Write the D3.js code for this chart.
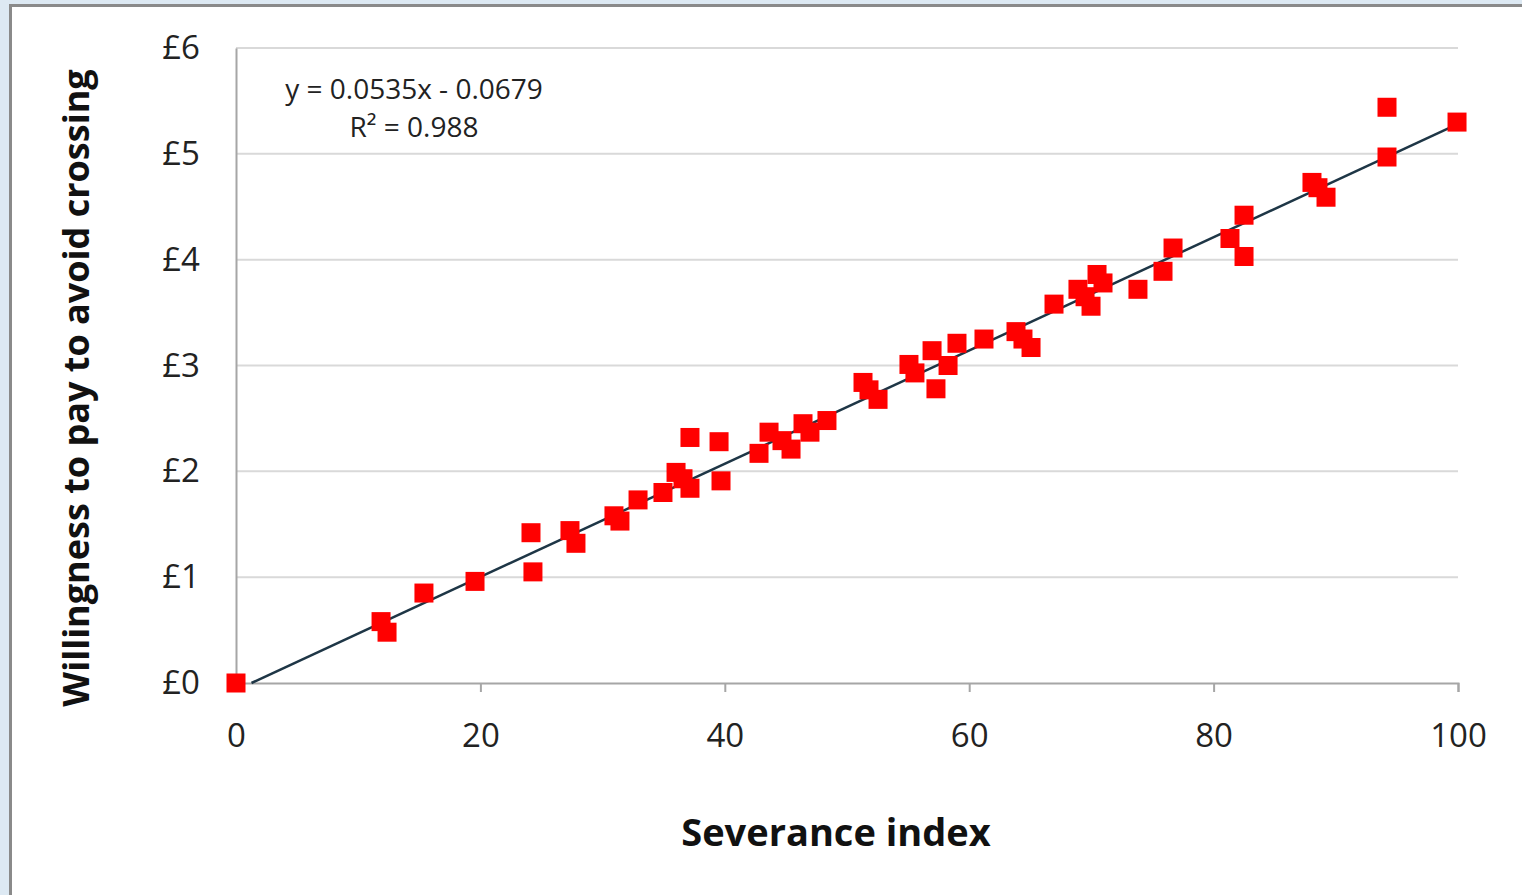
<!DOCTYPE html>
<html>
<head>
<meta charset="utf-8">
<script src="https://cdn.jsdelivr.net/npm/d3@7"></script>
<style>
	html, body { margin: 0; padding: 0; background: #dde9f3; }
	svg { display: block; }
</style>
</head>
<body>
<svg id="chart"></svg>
<script>
// severance index vs willingness to pay
let severance = [
	0, 11.87, 12.36, 15.38, 19.56, 24.14, 24.3, 27.33, 27.82, 30.93,
	31.42, 32.9, 34.94, 36.01, 36.58, 37.15, 37.15, 39.53, 39.69, 42.8,
	43.62, 44.68, 45.42, 46.4, 46.97, 48.36, 51.31, 51.8, 52.54, 55.07,
	55.56, 56.96, 57.28, 58.27, 59.0, 61.21, 63.83, 64.4, 65.06, 66.94,
	68.9, 69.48, 69.97, 70.46, 70.95, 73.81, 75.86, 76.68, 81.34, 82.49,
	82.49, 88.05, 88.54, 89.2, 94.19, 94.19, 99.92
];
let wtp = [
	0, 0.58, 0.48, 0.85, 0.96, 1.42, 1.05, 1.44, 1.32, 1.58,
	1.53, 1.73, 1.8, 1.99, 1.93, 1.84, 2.32, 2.28, 1.91, 2.17,
	2.37, 2.29, 2.21, 2.45, 2.37, 2.48, 2.84, 2.77, 2.68, 3.01,
	2.93, 3.14, 2.78, 3.0, 3.21, 3.25, 3.32, 3.25, 3.17, 3.58,
	3.72, 3.65, 3.56, 3.86, 3.78, 3.72, 3.89, 4.11, 4.2, 4.42,
	4.03, 4.73, 4.68, 4.59, 5.44, 4.97, 5.3
];
let xTicks = [0, 20, 40, 60, 80, 100];
let yTicks = [0, 1, 2, 3, 4, 5, 6];
let slope = 0.0535, intercept = -0.0679;
let eqLines = ['y = 0.0535x - 0.0679', 'R² = 0.988'];

let width = 1522,
	height = 895;

const svg = d3.select('#chart').attr('width', width).attr('height', height);

// white panel with grey frame
svg.append('rect')
	.attr('x', 10.5).attr('y', 5.5)
	.attr('width', width).attr('height', height)
	.attr('fill', '#ffffff')
	.attr('stroke', '#8a8a8a')
	.attr('stroke-width', 3);

const x = d3.scaleLinear().domain([0, 100]).range([236, 1458]);
const y = d3.scaleLinear().domain([0, 6]).range([683, 48]);

const font = "'Open Sans', sans-serif";

// horizontal gridlines
svg.append('g')
	.selectAll('line')
	.data(yTicks.slice(1))
	.enter()
	.append('line')
	.attr('x1', x(0)).attr('x2', x(100))
	.attr('y1', (d) => y(d)).attr('y2', (d) => y(d))
	.attr('stroke', '#d9d9d9')
	.attr('stroke-width', 2);

// x axis
const xAxis = svg.append('g')
	.attr('transform', 'translate(0,' + y(0) + ')')
	.call(d3.axisBottom(x).tickValues(xTicks).tickSize(9).tickPadding(32).tickFormat(d3.format('d')));
xAxis.select('.domain').attr('stroke', '#a6a6a6').attr('stroke-width', 2);
xAxis.selectAll('.tick line').attr('stroke', '#a6a6a6').attr('stroke-width', 2);
xAxis.selectAll('text')
	.style('font-family', font)
	.style('font-size', '33px')
	.attr('fill', '#222');

// y axis
const yAxis = svg.append('g')
	.attr('transform', 'translate(' + x(0) + ',0)')
	.call(d3.axisLeft(y).tickValues(yTicks).tickSize(0).tickPadding(36).tickFormat((d) => '£' + d));
yAxis.select('.domain').attr('stroke', '#a6a6a6').attr('stroke-width', 2);
yAxis.selectAll('text')
	.style('font-family', font)
	.style('font-size', '33px')
	.attr('fill', '#222');

// trendline from where it crosses zero to x = 100
let x0 = -intercept / slope;
svg.append('line')
	.attr('x1', x(x0)).attr('y1', y(0))
	.attr('x2', x(100)).attr('y2', y(slope * 100 + intercept))
	.attr('stroke', '#1e3646')
	.attr('stroke-width', 2.5);

// points
let size = 19;
svg.append('g')
	.selectAll('rect')
	.data(severance)
	.enter()
	.append('rect')
	.attr('x', (d) => x(d) - size / 2)
	.attr('y', (d, i) => y(wtp[i]) - size / 2)
	.attr('width', size)
	.attr('height', size)
	.attr('fill', '#ff0000');

// equation label
svg.append('g')
	.selectAll('text')
	.data(eqLines)
	.enter()
	.append('text')
	.attr('x', 414)
	.attr('y', (d, i) => 99 + i * 38)
	.attr('text-anchor', 'middle')
	.style('font-family', font)
	.style('font-size', '28px')
	.attr('fill', '#222')
	.text((d) => d);

// axis titles
svg.append('text')
	.attr('x', 836)
	.attr('y', 846)
	.attr('text-anchor', 'middle')
	.style('font-family', font)
	.style('font-size', '38px')
	.style('font-weight', 'bold')
	.attr('fill', '#111')
	.text('Severance index');

svg.append('text')
	.attr('transform', 'translate(89,388) rotate(-90)')
	.attr('text-anchor', 'middle')
	.style('font-family', font)
	.style('font-size', '36px')
	.style('font-weight', 'bold')
	.attr('fill', '#111')
	.text('Willingness to pay to avoid crossing');
</script>
</body>
</html>
